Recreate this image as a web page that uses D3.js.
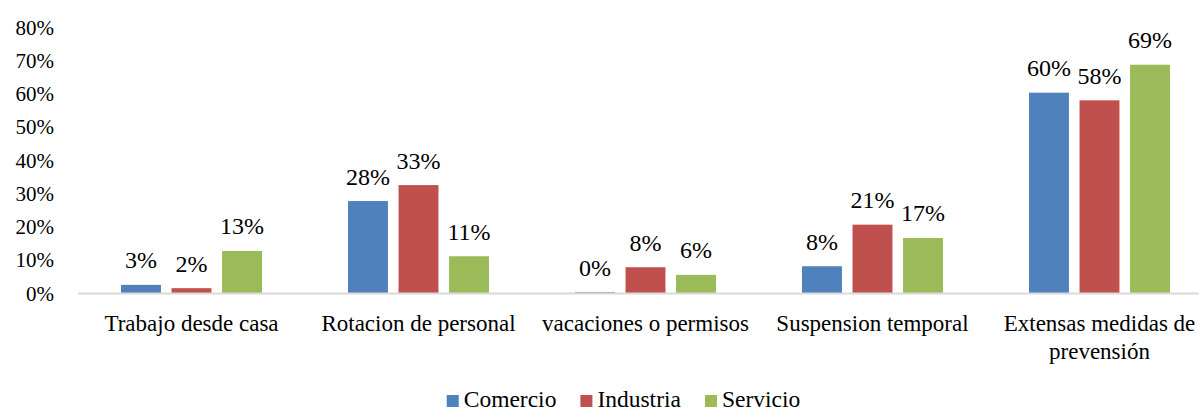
<!DOCTYPE html>
<html>
<head>
<meta charset="utf-8">
<script src="https://cdn.jsdelivr.net/npm/d3@7"></script>
<style>
  html, body { margin: 0; padding: 0; background: #fff; }
  svg text { font-family: "Liberation Serif", "DejaVu Serif", serif; }
</style>
</head>
<body>
<svg id="chart" width="1199" height="411"></svg>
<script>
const categories = [["Trabajo desde casa"], ["Rotacion de personal"], ["vacaciones o permisos"], ["Suspension temporal"], ["Extensas medidas de", "prevensión"]];
const seriesNames = ["Comercio", "Industria", "Servicio"];
const colors = ["#4F81BD", "#C0504D", "#9BBB59"];
const comercio = [0.026, 0.278, 0.004, 0.082, 0.604];
const industria = [0.016, 0.326, 0.079, 0.207, 0.581];
const servicio = [0.128, 0.112, 0.056, 0.167, 0.688];
const yTicks = [0, 0.1, 0.2, 0.3, 0.4, 0.5, 0.6, 0.7, 0.8];

const FONT = "Liberation Serif, DejaVu Serif, serif";
const seriesValues = [comercio, industria, servicio];
const catKeys = categories.map(c => c.join(" "));

const svg = d3.select("#chart");
const fmt = d3.format(".0%");

const x0 = d3.scaleBand().domain(catKeys).range([78, 1213])
  .paddingInner(0.379).paddingOuter(0.1895);
const x1 = d3.scaleBand().domain(seriesNames).range([0, x0.bandwidth()]).paddingInner(0.21);
const y = d3.scaleLinear().domain([0, 0.8]).range([293.5, 27.5]);

// y axis labels
const yAxis = d3.axisLeft(y).tickValues(yTicks).tickFormat(fmt).tickSize(0).tickPadding(0);
const gy = svg.append("g").attr("transform", "translate(54,0)").call(yAxis)
  .attr("font-family", FONT).attr("font-size", 21);
gy.select(".domain").remove();
gy.selectAll("text").attr("font-size", 21).attr("fill", "#000").attr("font-family", FONT);

// bars
const groups = svg.append("g").selectAll("g").data(catKeys).join("g")
  .attr("transform", d => `translate(${x0(d)},0)`);

groups.each(function(cat, ci) {
  const g = d3.select(this);
  seriesNames.forEach((s, si) => {
    const v = seriesValues[si][ci];
    g.append("rect")
      .attr("x", x1(s))
      .attr("y", y(v))
      .attr("width", x1.bandwidth())
      .attr("height", y(0) - y(v))
      .attr("fill", colors[si]);
    g.append("text")
      .attr("x", x1(s) + x1.bandwidth() / 2)
      .attr("y", y(v) - 16.5)
      .attr("text-anchor", "middle")
      .attr("font-family", FONT)
      .attr("font-size", 24)
      .attr("fill", "#000")
      .text(fmt(v));
  });
});

// x axis line
svg.append("line")
  .attr("x1", 78).attr("x2", 1199)
  .attr("y1", y(0)).attr("y2", y(0))
  .attr("stroke", "#D9D9D9").attr("stroke-width", 2);

// category labels
const catG = svg.append("g");
categories.forEach((lines, i) => {
  const cx = x0(catKeys[i]) + x0.bandwidth() / 2;
  const t = catG.append("text")
    .attr("text-anchor", "middle")
    .attr("font-family", FONT)
    .attr("font-size", 23)
    .attr("fill", "#000");
  lines.forEach((ln, li) => {
    t.append("tspan").attr("x", cx).attr("y", 331 + li * 27.5).text(ln);
  });
});

// legend
const leg = svg.append("g");
let lx = 0;
const items = [];
seriesNames.forEach((s, i) => {
  const it = leg.append("g");
  it.append("rect").attr("x", 0).attr("y", 395).attr("width", 12).attr("height", 12).attr("fill", colors[i]);
  const tx = it.append("text").attr("x", 17).attr("y", 407).attr("font-family", FONT)
    .attr("font-size", 23.5).attr("fill", "#000").text(s);
  const w = 17 + tx.node().getComputedTextLength();
  items.push({ it, w });
});
const gap = 24;
const total = d3.sum(items, d => d.w) + gap * (items.length - 1);
lx = 623.5 - total / 2;
items.forEach(d => {
  d.it.attr("transform", `translate(${lx},0)`);
  lx += d.w + gap;
});
</script>
</body>
</html>
